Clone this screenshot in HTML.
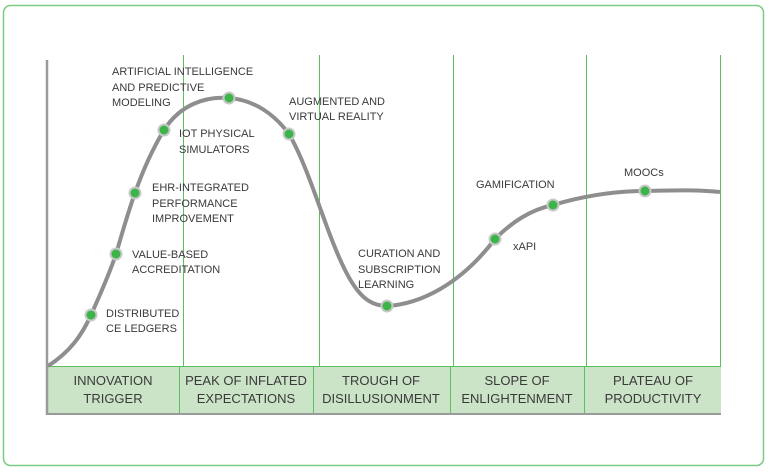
<!DOCTYPE html>
<html><head><meta charset="utf-8"><style>
html,body{margin:0;padding:0;background:#fff;width:769px;height:472px;overflow:hidden}
svg text{font-family:"Liberation Sans",sans-serif;fill:#3a3a3a}
</style></head><body>
<svg width="769" height="472" viewBox="0 0 769 472" xmlns="http://www.w3.org/2000/svg">
<rect x="3.5" y="5.5" width="760" height="460" rx="7" fill="#fff" stroke="#7ccb84" stroke-width="1.5"/>
<g stroke="#5cc05f" stroke-width="1">
<line x1="183.5" y1="55" x2="183.5" y2="366"/>
<line x1="319.5" y1="55" x2="319.5" y2="366"/>
<line x1="453.5" y1="55" x2="453.5" y2="366"/>
<line x1="586.5" y1="55" x2="586.5" y2="366"/>
<line x1="720.5" y1="55" x2="720.5" y2="366"/>
</g>
<rect x="47" y="366" width="674" height="48" fill="#cbe3c6"/>
<line x1="47" y1="366.5" x2="721" y2="366.5" stroke="#5cc05f" stroke-width="1"/>
<g stroke="#5cc05f" stroke-width="1">
<line x1="179.5" y1="366" x2="179.5" y2="414"/>
<line x1="313.5" y1="366" x2="313.5" y2="414"/>
<line x1="450.5" y1="366" x2="450.5" y2="414"/>
<line x1="584.5" y1="366" x2="584.5" y2="414"/>
</g>
<line x1="47" y1="414" x2="721" y2="414" stroke="#9a9a9a" stroke-width="2"/>
<line x1="47" y1="60" x2="47" y2="415" stroke="#9a9a9a" stroke-width="2.5"/>
<g font-size="13" text-anchor="middle">
<text x="113" y="385">INNOVATION</text><text x="113" y="403">TRIGGER</text>
<text x="246" y="385">PEAK OF INFLATED</text><text x="246" y="403">EXPECTATIONS</text>
<text x="381" y="385">TROUGH OF</text><text x="381" y="403">DISILLUSIONMENT</text>
<text x="517" y="385">SLOPE OF</text><text x="517" y="403">ENLIGHTENMENT</text>
<text x="653" y="385">PLATEAU OF</text><text x="653" y="403">PRODUCTIVITY</text>
</g>
<path d="M48,366 C70,352 82,335 91,315 C100,295 110,272 116,254 C122,234 128,212 135,193 C143,170 152,150 164,130 C180,105 205,96 229,98 C255,100 275,115 289,134 C310,170 325,230 345,270 C358,296 370,306 387,306 C420,304 460,285 495,239 C512,222 530,210 553,205 C590,194 620,191 645,191 C680,190 700,190 720,192" fill="none" stroke="#8e8e8e" stroke-width="4"/>
<g fill="#3cb44a" stroke="#c8c8c8" stroke-width="2">
<circle cx="91" cy="315" r="5.5"/><circle cx="116" cy="254" r="5.5"/><circle cx="135" cy="193" r="5.5"/>
<circle cx="164" cy="130" r="5.5"/><circle cx="229" cy="98" r="5.5"/><circle cx="289" cy="134" r="5.5"/>
<circle cx="387" cy="306" r="5.5"/><circle cx="495" cy="239" r="5.5"/><circle cx="553" cy="205" r="5.5"/>
<circle cx="645" cy="191" r="5.5"/>
</g>
<g font-size="11">
<text x="112" y="75">ARTIFICIAL INTELLIGENCE</text><text x="112" y="91">AND PREDICTIVE</text><text x="112" y="106">MODELING</text>
<text x="179" y="137">IOT PHYSICAL</text><text x="179" y="153">SIMULATORS</text>
<text x="152" y="191">EHR-INTEGRATED</text><text x="152" y="207">PERFORMANCE</text><text x="152" y="222">IMPROVEMENT</text>
<text x="132" y="258">VALUE-BASED</text><text x="132" y="273">ACCREDITATION</text>
<text x="106" y="317">DISTRIBUTED</text><text x="106" y="332">CE LEDGERS</text>
<text x="289" y="105">AUGMENTED AND</text><text x="289" y="120">VIRTUAL REALITY</text>
<text x="358" y="257">CURATION AND</text><text x="358" y="273">SUBSCRIPTION</text><text x="358" y="288">LEARNING</text>
<text x="476" y="188">GAMIFICATION</text>
<text x="513" y="250">xAPI</text>
<text x="624" y="176">MOOCs</text>
</g>
</svg>
</body></html>
